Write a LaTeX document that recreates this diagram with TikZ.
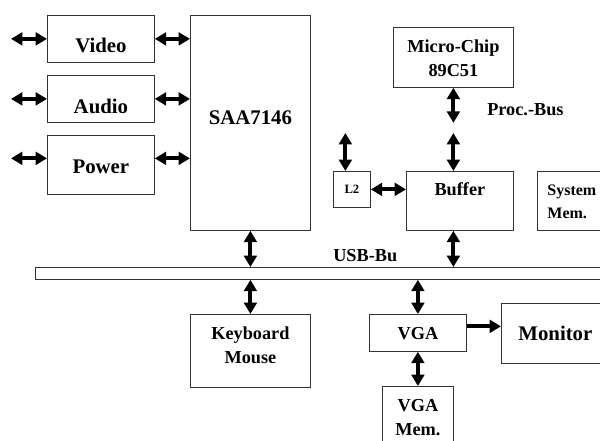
\documentclass[tikz,border=0pt]{standalone}
\usepackage{fontspec}
\setmainfont{Liberation Serif}
\usetikzlibrary{arrows.meta}

\begin{document}
\begin{tikzpicture}[
  x=0.75pt, y=-0.75pt, line cap=butt, line join=miter,
  blk/.style={draw=black!80, line width=0.6pt, inner sep=0pt, align=center,
              anchor=north west, fill=white},
  big/.style={font=\bfseries\fontsize{15.6pt}{18pt}\selectfont},
  mid/.style={font=\bfseries\fontsize{13.7pt}{18pt}\selectfont},
  lnk/.style={<->, line width=3.1pt, >={Triangle[length=8.5pt, width=9.5pt]}}
]

  \useasboundingbox (0,0) rectangle (600,441);
  \clip (0,0) rectangle (600,441);

  % ── Left column ───────────────────────────────────────────────────────────

  \node[blk, big, minimum width=80.25pt, text height=27.75pt, text depth=7.5pt]
      (video) at (47,15) {Video};
  \node[blk, big, minimum width=80.25pt, text height=28.5pt, text depth=6.75pt]
      (audio) at (47,75) {Audio};
  \node[blk, big, minimum width=80.25pt, text height=28.5pt, text depth=15.75pt]
      (power) at (47,135) {Power};

  \node[blk, big, minimum width=90pt, text height=81.75pt, text depth=79.5pt]
      (saa) at (190,15) {SAA7146};

  % ── Processor side ────────────────────────────────────────────────────────

  \node[blk, mid, minimum width=90pt, text height=36.75pt, text depth=8.25pt]
      (micro) at (393,27) {Micro-Chip\\89C51};
  \node[blk, mid, minimum width=80.25pt, text height=18pt, text depth=26.25pt]
      (buffer) at (406,171) {Buffer};
  \node[blk, font=\bfseries\fontsize{9.5pt}{11pt}\selectfont,
        minimum width=27.75pt, text height=16.5pt, text depth=10.5pt]
      (l2) at (333,171) {L2};
  \node[blk, font=\bfseries\fontsize{12pt}{17.25pt}\selectfont, align=left,
        inner xsep=7.5pt, text width=60pt, text height=18pt, text depth=26.25pt]
      (sysmem) at (537,171) {System\\Mem.};

  \node[mid, inner sep=0pt, anchor=base west] (procbus) at (487,116) {Proc.-Bus};

  % ── Bus ───────────────────────────────────────────────────────────────────

  \node[blk, minimum width=450pt, minimum height=9pt] (bus) at (35,267) {};
  \node[mid, inner sep=0pt, anchor=base west] (usb) at (333,262) {USB-Bu};

  % ── Below the bus ─────────────────────────────────────────────────────────

  \node[blk, mid, minimum width=90pt, text height=36.75pt, text depth=18pt]
      (kbd) at (190,314) {Keyboard\\Mouse};
  \node[blk, mid, minimum width=72.75pt, text height=18.75pt, text depth=9pt]
      (vga) at (369,314) {VGA};
  \node[blk, big, minimum width=81pt, text height=27.75pt, text depth=17.25pt]
      (monitor) at (501,303) {Monitor};
  \node[blk, mid, minimum width=53.25pt, text height=36.75pt, text depth=15pt]
      (vmem) at (382,386) {VGA\\Mem.};

  % ── Connectors ────────────────────────────────────────────────────────────

  \foreach \n in {video,audio}{
    \draw[lnk] (\n.west) -- ++(-36,0);
    \draw[lnk] (\n.east) -- (\n.east -| saa.west);
  }
  \draw[lnk] ([yshift=4.9pt]power.west) -- ++(-36,0);
  \draw[lnk] ([yshift=4.9pt]power.east) -- ([yshift=4.9pt]power.east -| saa.west);

  \draw[lnk] (saa.south) -- (saa.south |- bus.north);

  \draw[lnk] (micro.south) -- ++(0,35);
  \draw[lnk] (micro.south |- buffer.north) -- ++(0,-38);
  \draw[lnk] (micro.south |- buffer.south) -- (micro.south |- bus.north);

  \draw[lnk] ([xshift=-4.9pt]l2.north) -- ++(0,-38);
  \draw[lnk] (l2.east) -- (l2.east -| buffer.west);

  \draw[lnk] (kbd.north |- bus.south) -- (kbd.north);
  \draw[lnk] (vga.north |- bus.south) -- (vga.north);
  \draw[lnk] (vga.south) -- (vga.south |- vmem.north);
  \draw[lnk, -{Triangle[length=8.5pt, width=9.5pt]}]
      ([yshift=4.9pt]vga.east) -- ([yshift=4.9pt]vga.east -| monitor.west);

\end{tikzpicture}
\end{document}
